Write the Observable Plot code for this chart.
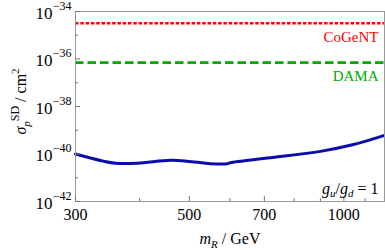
<!DOCTYPE html>
<html>
<head>
<meta charset="utf-8">
<script src="https://cdn.jsdelivr.net/npm/d3@7"></script>
<script src="https://cdn.jsdelivr.net/npm/@observablehq/plot@0.6"></script>
<style>
  html, body { margin: 0; padding: 0; background: white; }
</style>
</head>
<body>
<div id="chart"></div>
<script>
// ---- data ----
const mR = [300, 340, 359, 396, 459, 495, 550, 593, 601, 719, 900, 1044, 1200];
const sigmaSD = [1.0e-40, 5.0e-41, 4.1e-41, 4.1e-41, 5.4e-41, 5.0e-41, 3.9e-41, 3.9e-41, 4.3e-41, 6.9e-41, 1.29e-40, 2.5e-40, 6.1e-40];
const cogentLimit = 3.2e-35;
const damaLimit = 7.1e-37;
const xMajor = [300, 500, 700, 1000];
const xMinor = [400, 600, 800, 900, 1100];
const yMajor = [1e-42, 1e-40, 1e-38, 1e-36, 1e-34];
const yMajorExp = ["−42", "−40", "−38", "−36", "−34"];
const yMinor = [1e-41, 1e-39, 1e-37, 1e-35];
const seriesLabels = ["CoGeNT", "DAMA"];

const curve = mR.map((m, i) => ({m, s: sigmaSD[i]}));
const yTickRows = yMajor.map((v, i) => ({v, e: yMajorExp[i]}));

const RED = "#ff0000", GREEN = "#00aa00", BLUE = "#0c0caa", FRAME = "#9a9a9a";
const W = 385, H = 250, ML = 75, MR = 1, MT = 11, MB = 49;
const innerW = W - ML - MR, innerH = H - MT - MB;

const XLAB = "mR / GeV", YLAB = "σpSD / cm2", RATIO = "gu/gd = 1";

const svg = Plot.plot({
  width: W, height: H,
  marginLeft: ML, marginRight: MR, marginTop: MT, marginBottom: MB,
  x: {type: "log", domain: [300, 1200], axis: null},
  y: {type: "log", domain: [1e-42, 1e-34], axis: null},
  style: {fontFamily: "'Liberation Serif', 'Times New Roman', serif", background: "white", color: "black"},
  marks: [
    Plot.ruleY([cogentLimit], {stroke: RED, strokeWidth: 2.7, strokeDasharray: "3.5,1.8"}),
    Plot.ruleY([damaLimit], {stroke: GREEN, strokeWidth: 2.7, strokeDasharray: "8.5,4"}),
    Plot.line(curve, {x: "m", y: "s", stroke: BLUE, strokeWidth: 3, curve: "catmull-rom"}),
    Plot.frame({stroke: FRAME, strokeWidth: 1}),
    Plot.ruleX(xMajor, {insetTop: innerH - 5, stroke: "#777"}),
    Plot.ruleX(xMinor, {insetTop: innerH - 3, stroke: "#777"}),
    Plot.ruleY(yMajor, {insetRight: innerW - 5, stroke: "#777"}),
    Plot.ruleY(yMinor, {insetRight: innerW - 3, stroke: "#777"}),
    Plot.text(yTickRows, {y: "v", frameAnchor: "left", text: () => "10", textAnchor: "end", lineAnchor: "middle", dx: -23, dy: 2, fontSize: 17}),
    Plot.text(yTickRows, {y: "v", frameAnchor: "left", text: "e", textAnchor: "end", lineAnchor: "middle", dx: -4, dy: -5.5, fontSize: 12}),
    Plot.text(xMajor, {x: d => d, frameAnchor: "bottom", text: d => String(d), textAnchor: "middle", lineAnchor: "middle", dy: 13, fontSize: 16}),
    Plot.text([{x: 1200, y: cogentLimit, t: seriesLabels[0]}], {x: "x", y: "y", text: "t", textAnchor: "end", lineAnchor: "middle", dx: -6, dy: 13.5, fill: RED, fontSize: 15}),
    Plot.text([{x: 1200, y: damaLimit, t: seriesLabels[1]}], {x: "x", y: "y", text: "t", textAnchor: "end", lineAnchor: "middle", dx: -6, dy: 13.2, fill: GREEN, fontSize: 15}),
    Plot.text([XLAB], {frameAnchor: "bottom", text: d => d, textAnchor: "middle", lineAnchor: "middle", dy: 37, fontSize: 16}),
    Plot.text([YLAB], {frameAnchor: "left", text: d => d, rotate: -90, textAnchor: "middle", lineAnchor: "middle", dx: -55, dy: -5, fontSize: 16}),
    Plot.text([RATIO], {frameAnchor: "bottom-right", text: d => d, textAnchor: "end", lineAnchor: "middle", dx: -6, dy: -12.8, fontSize: 16})
  ]
});

function rich(label, parts) {
  d3.select(svg).selectAll("text").filter(function() { return this.textContent === label; })
    .each(function() {
      const t = d3.select(this);
      t.text(null);
      for (const p of parts) {
        const s = t.append("tspan").text(p.t);
        if (p.i) s.attr("font-style", "italic");
        if (p.s) s.attr("font-size", p.s);
        if (p.dy) s.attr("dy", p.dy);
      }
    });
}
rich(XLAB, [{t: "m", i: 1}, {t: "R", i: 1, s: 11, dy: 4}, {t: " / GeV", dy: -4}]);
rich(YLAB, [{t: "σ", i: 1}, {t: "p", i: 1, s: 11, dy: 4}, {t: "SD", s: 12, dy: -11}, {t: " / cm", dy: 7}, {t: "2", s: 11, dy: -7}]);
rich(RATIO, [{t: "g", i: 1}, {t: "u", i: 1, s: 11, dy: 3}, {t: "/", dy: -3}, {t: "g", i: 1}, {t: "d", i: 1, s: 11, dy: 3}, {t: " = 1", dy: -3}]);

document.getElementById("chart").appendChild(svg);
</script>
</body>
</html>
